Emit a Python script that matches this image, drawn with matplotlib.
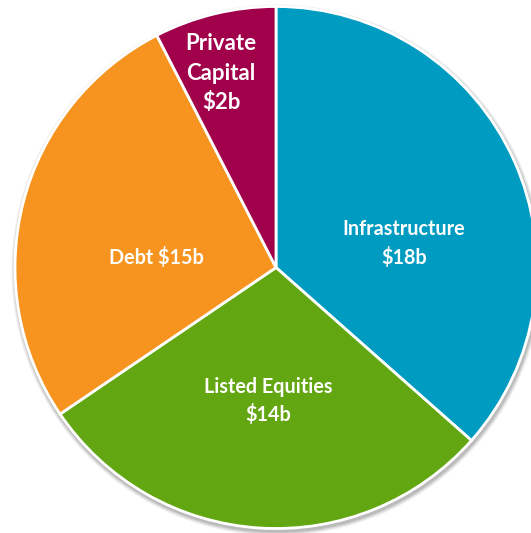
import matplotlib
matplotlib.use("Agg")
import matplotlib.pyplot as plt
from matplotlib.patches import Circle

categories = ["Infrastructure", "Listed Equities", "Debt", "Private Capital"]
values = [17.9, 14.2, 13.2, 3.7]
labels = ["Infrastructure\n$18b", "Listed Equities\n$14b", "Debt $15b", "Private\nCapital\n$2b"]
colors = ["#009BC1", "#62A611", "#F7941F", "#A1004A"]
label_pos = [(0.49, 0.093), (-0.03, -0.512), (-0.46, 0.04), (-0.21, 0.745)]
label_size = [14.2, 14.2, 14.2, 16]
label_spacing = [1.45, 1.45, 1.45, 1.5]

W, H, DPI = 531, 533, 100
fig = plt.figure(figsize=(W / DPI, H / DPI), dpi=DPI)
ax = fig.add_axes([0, 0, 1, 1])
R = 261.0
cx, cy = 276.0, H - 267.5

# soft shadow
for i, a in enumerate([0.05, 0.06, 0.08, 0.10]):
    ax.add_patch(Circle((0.004, -0.010), 1.0 + 0.012 * (3 - i) / 3 + 0.006, color="black", alpha=a, lw=0, zorder=0))

wedges, _ = ax.pie(values, colors=colors, startangle=90, counterclock=False, radius=1.0,
                   wedgeprops=dict(edgecolor="white", linewidth=2.0), center=(0, 0), frame=True)
ax.axis("off")
ax.set_xlim(-cx / R, (W - cx) / R)
ax.set_ylim(-cy / R, (H - cy) / R)
ax.set_aspect("auto")

for lab, (x, y), fs, ls in zip(labels, label_pos, label_size, label_spacing):
    ax.text(x, y, lab, ha="center", va="center", color="white", fontsize=fs,
            fontweight="bold", family="Lato", linespacing=ls, zorder=5)

fig.savefig("out.png", dpi=DPI)
